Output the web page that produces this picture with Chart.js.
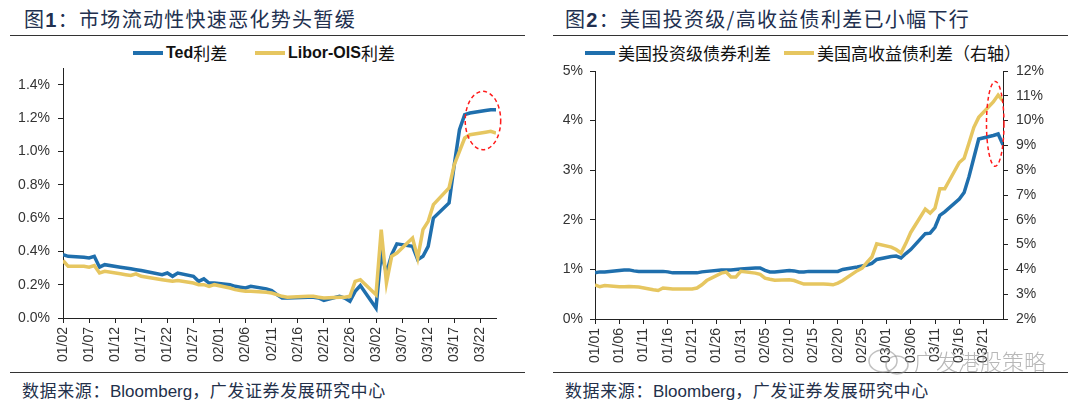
<!DOCTYPE html>
<html>
<head>
<meta charset="utf-8">
<script src="https://cdn.jsdelivr.net/npm/chart.js@4.4.0/dist/chart.umd.min.js"></script>
<style>
  body { margin: 0; background: #fff; }
  #page { position: relative; width: 1080px; height: 408px; overflow: hidden; font-family: "Liberation Sans", "Noto Sans CJK SC", sans-serif; }
  .abs { position: absolute; white-space: nowrap; }
  .title { font-family: "Noto Sans CJK SC", sans-serif; font-size: 20px; line-height: 20px; color: #22304f; letter-spacing: 1.3px; }
  .title b { font-family: "Liberation Sans", sans-serif; font-weight: bold; }
  .rule { position: absolute; height: 1px; background: #333; }
  .leg { font-size: 16px; line-height: 20px; color: #111; display: flex; align-items: center; }
  .leg .sw { width: 30px; height: 4px; margin-right: 3px; }
  .leg .lat { font-family: "Liberation Sans", sans-serif; font-weight: bold; }
  .leg .cjk { font-family: "Noto Sans CJK SC", sans-serif; font-size: 17px; }
  .src { font-family: "Noto Sans CJK SC", sans-serif; font-size: 17px; line-height: 20px; color: #23304a; letter-spacing: 0.6px; }
  .src .lat { font-family: "Liberation Sans", sans-serif; letter-spacing: 0; }
  .wm { font-family: "Noto Sans CJK SC", sans-serif; font-size: 22px; line-height: 24px; color: rgba(135,135,135,0.6); font-weight: 300; }
  canvas { position: absolute; }
</style>
</head>
<body>
<div id="page">
  <div class="abs title" style="left:24px; top:9px;">图<b>1</b>：市场流动性快速恶化势头暂缓</div>
  <div class="abs title" style="left:565px; top:9px;">图<b>2</b>：美国投资级/高收益债利差已小幅下行</div>
  <div class="rule" style="left:10px; top:35px; width:515px;"></div>
  <div class="rule" style="left:553px; top:35px; width:515px;"></div>

  <div class="abs leg" style="left:133px; top:43px;"><span class="sw" style="background:#1f6fad"></span><span class="lat">Ted</span><span class="cjk">利差</span></div>
  <div class="abs leg" style="left:255px; top:43px;"><span class="sw" style="background:#e6c660"></span><span class="lat">Libor-OIS</span><span class="cjk">利差</span></div>
  <div class="abs leg" style="left:585px; top:43px;"><span class="sw" style="background:#1f6fad"></span><span class="cjk">美国投资级债券利差</span></div>
  <div class="abs leg" style="left:784px; top:43px;"><span class="sw" style="background:#e6c660"></span><span class="cjk">美国高收益债利差（右轴）</span></div>

  <canvas id="left" width="540" height="310" style="left:0; top:60px;"></canvas>
  <canvas id="right" width="540" height="310" style="left:540px; top:60px;"></canvas>

  <div class="rule" style="left:10px; top:372px; width:515px;"></div>
  <div class="rule" style="left:553px; top:372px; width:515px;"></div>
  <div class="abs src" style="left:22px; top:380px;">数据来源：<span class="lat">Bloomberg</span>，广发证券发展研究中心</div>
  <div class="abs src" style="left:565px; top:380px;">数据来源：<span class="lat">Bloomberg</span>，广发证券发展研究中心</div>

  <svg class="abs" style="left:866px; top:346px;" width="48" height="30">
    <ellipse cx="17" cy="15" rx="14" ry="11" fill="none" stroke="rgba(140,140,140,0.55)" stroke-width="1.5"/>
    <ellipse cx="31" cy="19" rx="11" ry="9" fill="none" stroke="rgba(140,140,140,0.55)" stroke-width="1.5"/>
  </svg>
  <div class="abs wm" style="left:914px; top:348px;">广发港股策略</div>
</div>

<script>
// ---- figure 1: Ted / Libor-OIS spreads (%), trading days 2020
const leftStart = "01/02";
const leftEnd = "03/25";
const tedDates = ["01/02","01/03","01/06","01/07","01/08","01/09","01/10","01/13","01/14","01/15","01/16","01/17",
  "01/21","01/22","01/23","01/24","01/27","01/28","01/29","01/30","01/31",
  "02/03","02/04","02/05","02/06","02/07","02/10","02/11","02/12","02/13","02/14",
  "02/18","02/19","02/20","02/21","02/24","02/25","02/26","02/27","02/28",
  "03/02","03/03","03/04","03/05","03/06","03/09","03/10","03/11","03/12","03/13",
  "03/16","03/17","03/18","03/19","03/20","03/23","03/24","03/25"];
const tedSpread = [0.38,0.37,0.365,0.36,0.37,0.305,0.32,0.305,0.30,0.295,0.29,0.285,
  0.26,0.27,0.25,0.27,0.25,0.22,0.235,0.21,0.21,
  0.20,0.19,0.185,0.18,0.19,0.175,0.165,0.14,0.12,0.12,
  0.125,0.125,0.12,0.105,0.13,0.12,0.10,0.16,0.195,
  0.06,0.39,0.27,0.38,0.445,0.43,0.35,0.37,0.43,0.60,
  0.69,0.92,1.13,1.22,1.23,1.245,1.25,1.25];
const liborOis = [0.345,0.31,0.31,0.305,0.315,0.27,0.28,0.265,0.26,0.255,0.265,0.25,
  0.23,0.225,0.22,0.225,0.21,0.20,0.20,0.19,0.20,
  0.18,0.17,0.165,0.16,0.16,0.155,0.15,0.14,0.13,0.125,
  0.13,0.13,0.125,0.12,0.125,0.125,0.13,0.22,0.23,
  0.14,0.53,0.21,0.37,0.39,0.48,0.36,0.53,0.58,0.68,
  0.78,0.92,1.00,1.08,1.10,1.115,1.12,1.11];
const leftXTicks = ["01/02","01/07","01/12","01/17","01/22","01/27","02/01","02/06","02/11",
  "02/16","02/21","02/26","03/02","03/07","03/12","03/17","03/22"];
const leftYTicks = [0, 0.2, 0.4, 0.6, 0.8, 1.0, 1.2, 1.4];
const leftYMax = 1.5;

// ---- figure 2: US IG / HY spreads (%), business days 2020
const rightStart = "01/01";
const rightEnd = "03/25";
const bondDates = ["01/01","01/02","01/03","01/06","01/07","01/08","01/09","01/10","01/13","01/14","01/15","01/16","01/17",
  "01/20","01/21","01/22","01/23","01/24","01/27","01/28","01/29","01/30","01/31",
  "02/03","02/04","02/05","02/06","02/07","02/10","02/11","02/12","02/13","02/14",
  "02/17","02/18","02/19","02/20","02/21","02/24","02/25","02/26","02/27","02/28",
  "03/02","03/03","03/04","03/05","03/06","03/09","03/10","03/11","03/12","03/13",
  "03/16","03/17","03/18","03/19","03/20","03/23","03/24","03/25"];
const igSpread = [0.93,0.95,0.95,0.98,0.99,0.99,0.97,0.96,0.96,0.96,0.96,0.95,0.93,
  0.93,0.93,0.93,0.95,0.96,0.99,0.99,0.99,1.00,1.01,
  1.03,1.03,0.98,0.95,0.95,0.98,0.97,0.95,0.95,0.96,
  0.96,0.96,0.96,0.96,1.00,1.05,1.07,1.09,1.12,1.20,
  1.26,1.27,1.23,1.32,1.40,1.72,1.73,1.85,2.09,2.16,
  2.42,2.55,2.87,3.25,3.63,3.70,3.73,3.51];
const hySpread = [3.38,3.30,3.35,3.30,3.30,3.31,3.30,3.29,3.18,3.15,3.25,3.23,3.21,
  3.21,3.21,3.25,3.38,3.55,3.85,3.89,3.69,3.69,3.92,
  3.85,3.80,3.65,3.60,3.56,3.58,3.55,3.48,3.41,3.41,
  3.41,3.40,3.38,3.45,3.55,3.95,4.05,4.28,4.50,5.03,
  4.90,4.80,4.66,5.05,5.49,6.43,6.27,6.47,7.25,7.25,
  8.31,8.48,9.10,9.73,10.13,10.75,11.03,10.79];
const rightXTicks = ["01/01","01/06","01/11","01/16","01/21","01/26","01/31","02/05","02/10",
  "02/15","02/20","02/25","03/01","03/06","03/11","03/16","03/21"];
const igTicks = [0, 1, 2, 3, 4, 5];
const hyTicks = [2, 3, 4, 5, 6, 7, 8, 9, 10, 11, 12];

const BLUE = "#1f6fad";
const YELLOW = "#e6c660";
const AXIS = "#222";
const LABEL = "#333";
const FONT = "'Liberation Sans', Arial, sans-serif";

function dayNum(s, start) {
  const t = Date.UTC(2020, +s.slice(0, 2) - 1, +s.slice(3));
  const t0 = Date.UTC(2020, +start.slice(0, 2) - 1, +start.slice(3));
  return (t - t0) / 864e5;
}
function points(dates, vals, start) {
  return dates.map((d, i) => ({ x: dayNum(d, start), y: vals[i] }));
}

// red dashed ring, given in data units
const ringPlugin = {
  id: "ring",
  afterDatasetsDraw(chart, args, o) {
    const xs = chart.scales.x, ys = chart.scales[o.axis];
    const cx = xs.getPixelForValue(o.x), cy = ys.getPixelForValue(o.y);
    const rx = Math.abs(xs.getPixelForValue(o.x + o.rx) - cx);
    const ry = Math.abs(ys.getPixelForValue(o.y + o.ry) - cy);
    const ctx = chart.ctx;
    ctx.save();
    ctx.strokeStyle = "#ff1a1a";
    ctx.lineWidth = 1.5;
    ctx.setLineDash([4, 3]);
    ctx.beginPath();
    ctx.ellipse(cx, cy, rx, ry, 0, 0, Math.PI * 2);
    ctx.stroke();
    ctx.restore();
  }
};

function xScale(ticks, start, end, height) {
  return {
    type: "linear",
    min: 0,
    max: dayNum(end, start),
    afterBuildTicks: (s) => { s.ticks = ticks.map(t => ({ value: dayNum(t, start) })); },
    afterFit: (s) => { s.height = height; s.paddingLeft = 0; s.paddingRight = 0; },
    grid: { drawOnChartArea: false, drawTicks: true, tickLength: 5, tickColor: AXIS },
    border: { display: true, color: AXIS, width: 1 },
    ticks: {
      minRotation: 90, maxRotation: 90, padding: 4, autoSkip: false,
      color: LABEL, font: { family: FONT, size: 14 },
      callback: (v, i) => ticks[i]
    }
  };
}
function yScale(pos, ticks, min, max, width, pad, fmt) {
  return {
    type: "linear",
    position: pos,
    min: min,
    max: max,
    afterBuildTicks: (s) => { s.ticks = ticks.map(t => ({ value: t })); },
    afterFit: (s) => { s.width = width; s.paddingTop = 0; s.paddingBottom = 0; },
    grid: { drawOnChartArea: false, drawTicks: true, tickLength: 5, tickColor: AXIS },
    border: { display: true, color: AXIS, width: 1 },
    ticks: { padding: pad, color: LABEL, font: { family: FONT, size: 14 }, callback: fmt }
  };
}
function line(label, data, color, axis, order) {
  return {
    label: label, data: data, yAxisID: axis, order: order,
    borderColor: color, backgroundColor: color, borderWidth: 3.5,
    pointRadius: 0, tension: 0, fill: false
  };
}

new Chart(document.getElementById("left"), {
  type: "line",
  data: {
    datasets: [
      line("Ted利差", points(tedDates, tedSpread, leftStart), BLUE, "y", 1),
      line("Libor-OIS利差", points(tedDates, liborOis, leftStart), YELLOW, "y", 0)
    ]
  },
  options: {
    responsive: false,
    animation: false,
    layout: { padding: { top: 8, right: 44, bottom: 0, left: 0 } },
    plugins: {
      legend: { display: false },
      tooltip: { enabled: false },
      ring: { axis: "y", x: 80.5, y: 1.185, rx: 3.4, ry: 0.175 }
    },
    scales: {
      x: xScale(leftXTicks, leftStart, leftEnd, 52),
      y: yScale("left", leftYTicks, 0, leftYMax, 63, 8, v => v.toFixed(1) + "%")
    }
  },
  plugins: [ringPlugin]
});

new Chart(document.getElementById("right"), {
  type: "line",
  data: {
    datasets: [
      line("美国投资级债券利差", points(bondDates, igSpread, rightStart), BLUE, "y", 1),
      line("美国高收益债利差（右轴）", points(bondDates, hySpread, rightStart), YELLOW, "y2", 0)
    ]
  },
  options: {
    responsive: false,
    animation: false,
    layout: { padding: { top: 11, right: 0, bottom: 0, left: 0 } },
    plugins: {
      legend: { display: false },
      tooltip: { enabled: false },
      ring: { axis: "y2", x: 82.4, y: 9.87, rx: 1.8, ry: 1.71 }
    },
    scales: {
      x: xScale(rightXTicks, rightStart, rightEnd, 51),
      y: yScale("left", igTicks, 0, 5, 55, 7, v => v + "%"),
      y2: yScale("right", hyTicks, 2, 12, 77, 8, v => v + "%")
    }
  },
  plugins: [ringPlugin]
});
</script>
</body>
</html>
